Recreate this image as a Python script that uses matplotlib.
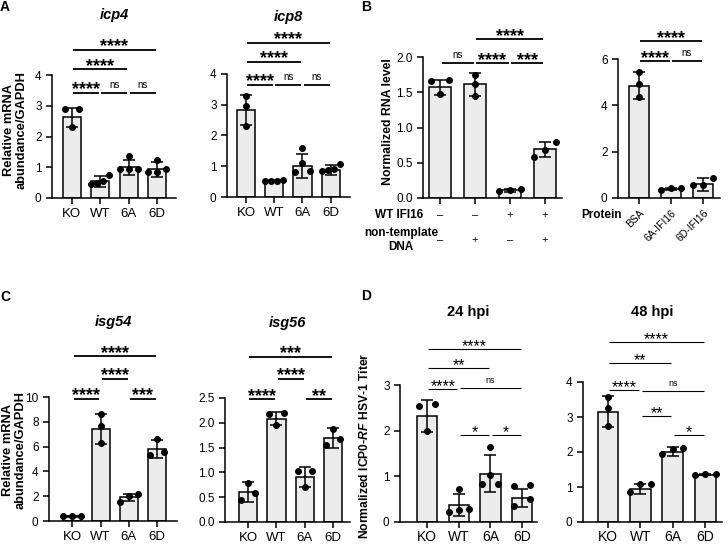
import numpy as np
import matplotlib
matplotlib.use("Agg")
import matplotlib.pyplot as plt
from matplotlib import transforms

plt.rcParams['font.family'] = ['Liberation Sans', 'DejaVu Sans']
plt.rcParams['mathtext.fontset'] = 'custom'
plt.rcParams['mathtext.it'] = 'Liberation Sans:italic:bold'
plt.rcParams['mathtext.rm'] = 'Liberation Sans:bold'

W, H = 728, 545
groups = ['KO', 'WT', '6A', '6D']

# ---- A: icp4 / icp8
icp4_mean = [2.62, 0.55, 1.0, 0.93]
icp4_sd = [0.32, 0.18, 0.25, 0.25]
icp4_pts = [[2.9, 2.3, 2.9], [0.75, 0.55, 0.45, 0.5], [1.38, 0.95, 0.95, 0.95], [1.25, 0.95, 0.85, 0.85]]
icp4_sig = [(0, 1, 3.43, '****'), (1, 2, 3.43, 'ns'), (2, 3, 3.43, 'ns'),
            (0, 2, 4.18, '****'), (0, 3, 4.81, '****')]

icp8_mean = [2.83, 0.52, 1.02, 0.88]
icp8_sd = [0.5, 0.03, 0.39, 0.15]
icp8_pts = [[3.3, 2.95, 2.32], [0.55, 0.53, 0.52, 0.52], [1.6, 1.1, 0.85, 0.8], [1.08, 0.9, 0.88, 0.85]]
icp8_sig = [(0, 1, 3.64, '****'), (1, 2, 3.64, 'ns'), (2, 3, 3.64, 'ns'),
            (0, 2, 4.4, '****'), (0, 3, 5.02, '****')]

# ---- B: in vitro transcription
rna_mean = [1.57, 1.61, 0.11, 0.69]
rna_sd = [0.11, 0.16, 0.02, 0.11]
rna_pts = [[1.67, 1.48, 1.66], [1.75, 1.62, 1.45], [0.10, 0.13, 0.11], [0.79, 0.68, 0.58]]
rna_sig = [(0, 1, 1.91, 'ns'), (1, 2, 1.91, '****'), (2, 3, 1.91, '***'), (1, 3, 2.25, '****')]
wt_ifi16 = ['–', '–', '+', '+']
nontemplate = ['–', '+', '–', '+']

protein = ['BSA', '6A-IFI16', '6D-IFI16']
prot_mean = [4.85, 0.39, 0.6]
prot_sd = [0.57, 0.05, 0.28]
prot_pts = [[5.42, 4.9, 4.36], [0.35, 0.45, 0.42], [0.88, 0.55, 0.55]]
prot_sig = [(0, 1, 5.9, '****'), (1, 2, 5.9, 'ns'), (0, 2, 6.76, '****')]

# ---- C: isg54 / isg56
isg54_mean = [0.38, 7.45, 1.9, 5.83]
isg54_sd = [0.05, 1.2, 0.3, 0.72]
isg54_pts = [[0.4, 0.4, 0.4], [8.6, 7.7, 6.3], [2.15, 1.5, 2.05], [6.6, 5.6, 5.3]]
isg54_sig = [(0, 1, 9.87, '****'), (2, 3, 9.87, '***'), (1, 2, 11.48, '****'), (0, 3, 13.28, '****')]

isg56_mean = [0.60, 2.08, 0.9, 1.69]
isg56_sd = [0.2, 0.13, 0.2, 0.2]
isg56_pts = [[0.78, 0.58, 0.45], [2.2, 1.95, 2.18], [1.03, 0.7, 1.03], [1.88, 1.68, 1.55]]
isg56_sig = [(0, 1, 2.47, '****'), (2, 3, 2.47, '**'), (1, 2, 2.88, '****'), (0, 3, 3.33, '***')]

# ---- D: titers
h24_mean = [2.33, 0.37, 1.06, 0.53]
h24_sd = [0.35, 0.24, 0.41, 0.2]
h24_pts = [[2.58, 2.0, 2.55], [0.72, 0.28, 0.26, 0.22], [1.65, 1.04, 0.83, 0.83], [0.8, 0.78, 0.5, 0.35]]
h24_sig = [(0, 1, 2.91, '****'), (1, 3, 2.93, 'ns'), (0, 2, 3.37, '**'), (0, 3, 3.78, '****'),
           (1, 2, 1.9, '*'), (2, 3, 1.9, '*')]

h48_mean = [3.15, 0.95, 2.01, 1.35]
h48_sd = [0.44, 0.14, 0.12, 0.02]
h48_pts = [[3.57, 3.25, 2.73], [1.1, 0.87, 1.08], [2.12, 1.93, 2.1], [1.36, 1.36, 1.35]]
h48_sig = [(0, 1, 3.78, '****'), (1, 3, 3.75, 'ns'), (0, 2, 4.54, '**'), (0, 3, 5.13, '****'),
           (1, 2, 3.03, '**'), (2, 3, 2.48, '*')]


fig = plt.figure(figsize=(W / 100, H / 100), dpi=100)


def px_axes(left, right, top, bottom):
    return fig.add_axes([left / W, 1 - bottom / H, (right - left) / W, (bottom - top) / H])


def swarm(vals, thr):
    vals = np.asarray(vals, dtype=float)
    order = np.argsort(vals)
    offs = np.zeros(len(vals))
    grp = [order[0]]
    chunks = []
    for i in order[1:]:
        if vals[i] - vals[grp[-1]] < thr:
            grp.append(i)
        else:
            chunks.append(grp)
            grp = [i]
    chunks.append(grp)
    for g in chunks:
        k = len(g)
        if k > 1:
            step = min(0.5, 0.64 / (k - 1))
            offs[g] = (np.arange(k) - (k - 1) / 2) * step
    return offs


def bar_panel(ax, means, sds, pts, yticks, xlim, sig, thin=False):
    x = np.arange(len(means))
    ax.bar(x, means, width=0.64, color='#ececec', edgecolor='black', linewidth=1.1, zorder=2)
    ax.errorbar(x, means, yerr=sds, fmt='none', ecolor='black', elinewidth=1.1,
                capsize=4, capthick=1.1, zorder=3)
    thr = 0.055 * yticks[-1]
    for i, p in enumerate(pts):
        ax.scatter(i + swarm(p, thr), p, s=16, color='black', zorder=4, clip_on=False)
    ax.set_xlim(*xlim)
    ax.set_ylim(0, yticks[-1])
    ax.set_yticks(yticks)
    ax.set_xticks(x)
    for s in ['top', 'right']:
        ax.spines[s].set_visible(False)
    for s in ['left', 'bottom']:
        ax.spines[s].set_linewidth(1.1)
    ax.tick_params(direction='out', length=4, width=1.1, labelsize=8.5)
    ax.tick_params(axis='x', labelsize=9.5, pad=3)
    lw = 0.8 if thin else 1.3
    for x1, x2, y, lab in sig:
        ax.plot([x1 + 0.04, x2 - 0.04], [y, y], color='black', lw=lw, clip_on=False,
                solid_capstyle='butt')
        if lab == 'ns':
            ax.annotate('ns', xy=((x1 + x2) / 2, y), xytext=(0, 3.5), textcoords='offset points',
                        ha='center', va='baseline', fontsize=6.5 if thin else 7,
                        annotation_clip=False)
        else:
            ax.annotate(lab, xy=((x1 + x2) / 2, y), xytext=(0, -1.5 if thin else -1),
                        textcoords='offset points', ha='center', va='baseline',
                        fontsize=11.5 if thin else 13, fontweight='normal' if thin else 'bold',
                        annotation_clip=False)


def title(ax, txt, y, italic=True):
    bb = ax.get_position()
    fig.text((bb.x0 + bb.x1) / 2, 1 - y / H, txt, ha='center', va='center', fontsize=10.5,
             fontweight='bold', fontstyle='italic' if italic else 'normal')


# ---------- Panel A
axA1 = px_axes(52, 176, 75, 198)
bar_panel(axA1, icp4_mean, icp4_sd, icp4_pts, [0, 1, 2, 3, 4], (-0.7, 3.67), icp4_sig)
axA1.set_xticklabels(groups)
axA1.set_ylabel('Relative mRNA\nabundance/GAPDH', fontsize=9.3, fontweight='bold', linespacing=1.05)
axA1.yaxis.set_label_coords(-0.2, 0.55)
title(axA1, 'icp4', 15)

axA2 = px_axes(227, 350, 74, 197)
bar_panel(axA2, icp8_mean, icp8_sd, icp8_pts, [0, 1, 2, 3, 4], (-0.67, 3.68), icp8_sig)
axA2.set_xticklabels(groups)
title(axA2, 'icp8', 17)

# ---------- Panel B
axB1 = px_axes(423, 562, 57, 198)
bar_panel(axB1, rna_mean, rna_sd, rna_pts, [0, 0.5, 1.0, 1.5, 2.0], (-0.49, 3.49), rna_sig)
axB1.set_yticklabels(['0.0', '0.5', '1.0', '1.5', '2.0'])
axB1.set_xticklabels([])
axB1.set_ylabel('Normalized RNA level', fontsize=8.8, fontweight='bold')
axB1.yaxis.set_label_coords(-0.21, 0.54)
tr = transforms.blended_transform_factory(axB1.transData, fig.transFigure)
for i, (a, b) in enumerate(zip(wt_ifi16, nontemplate)):
    axB1.text(i, 1 - 215 / H, a, transform=tr, ha='center', va='center', fontsize=8)
    axB1.text(i, 1 - 240 / H, b, transform=tr, ha='center', va='center', fontsize=8)
fig.text(423 / W, 1 - 215 / H, 'WT IFI16', ha='right', va='center', fontsize=8.5, fontweight='bold')
fig.text(401 / W, 1 - 240 / H, 'non-template\nDNA', ha='center', va='center', fontsize=8.5,
         fontweight='bold', multialignment='center', linespacing=1.3)

axB2 = px_axes(618, 720, 59, 198)
bar_panel(axB2, prot_mean, prot_sd, prot_pts, [0, 2, 4, 6], (-0.66, 2.53), prot_sig)
axB2.set_xticklabels(protein, rotation=45, ha='right', va='top', rotation_mode='anchor',
                     fontsize=7.5)
fig.text(622 / W, 1 - 215 / H, 'Protein', ha='right', va='center', fontsize=8.5, fontweight='bold')

# ---------- Panel C
axC1 = px_axes(49, 177, 397, 521)
bar_panel(axC1, isg54_mean, isg54_sd, isg54_pts, [0, 2, 4, 6, 8, 10], (-0.83, 3.71), isg54_sig)
axC1.set_xticklabels(groups)
axC1.set_ylabel('Relative mRNA\nabundance/GAPDH', fontsize=9.3, fontweight='bold', linespacing=1.05)
axC1.yaxis.set_label_coords(-0.175, 0.57)
title(axC1, 'isg54', 322)

axC2 = px_axes(225, 350, 398, 522)
bar_panel(axC2, isg56_mean, isg56_sd, isg56_pts, [0, 0.5, 1.0, 1.5, 2.0, 2.5], (-0.81, 3.59), isg56_sig)
axC2.set_yticklabels(['0.0', '0.5', '1.0', '1.5', '2.0', '2.5'])
axC2.set_xticklabels(groups)
title(axC2, 'isg56', 323)

# ---------- Panel D
axD1 = px_axes(400, 537, 385, 522)
bar_panel(axD1, h24_mean, h24_sd, h24_pts, [0, 1, 2, 3], (-0.85, 3.47), h24_sig, thin=True)
axD1.set_xticklabels(groups)
axD1.tick_params(axis='x', labelsize=10, pad=2)
axD1.set_ylabel(r'Normalized ICP0-$RF$ HSV-1 Titer', fontsize=8.7, fontweight='bold')
axD1.yaxis.set_label_coords(-0.21, 0.555)
title(axD1, '24 hpi', 312, italic=False)

axD2 = px_axes(583, 722, 382, 522)
bar_panel(axD2, h48_mean, h48_sd, h48_pts, [0, 1, 2, 3, 4], (-0.77, 3.52), h48_sig, thin=True)
axD2.set_xticklabels(groups)
axD2.tick_params(axis='x', labelsize=10, pad=2)
title(axD2, '48 hpi', 312, italic=False)

for lab, (x, y) in zip('ABCD', [(5, 7), (366, 7), (5, 297), (366, 296)]):
    fig.text(x / W, 1 - y / H, lab, ha='center', va='center', fontsize=10, fontweight='bold')

fig.savefig('out.png', dpi=100)
